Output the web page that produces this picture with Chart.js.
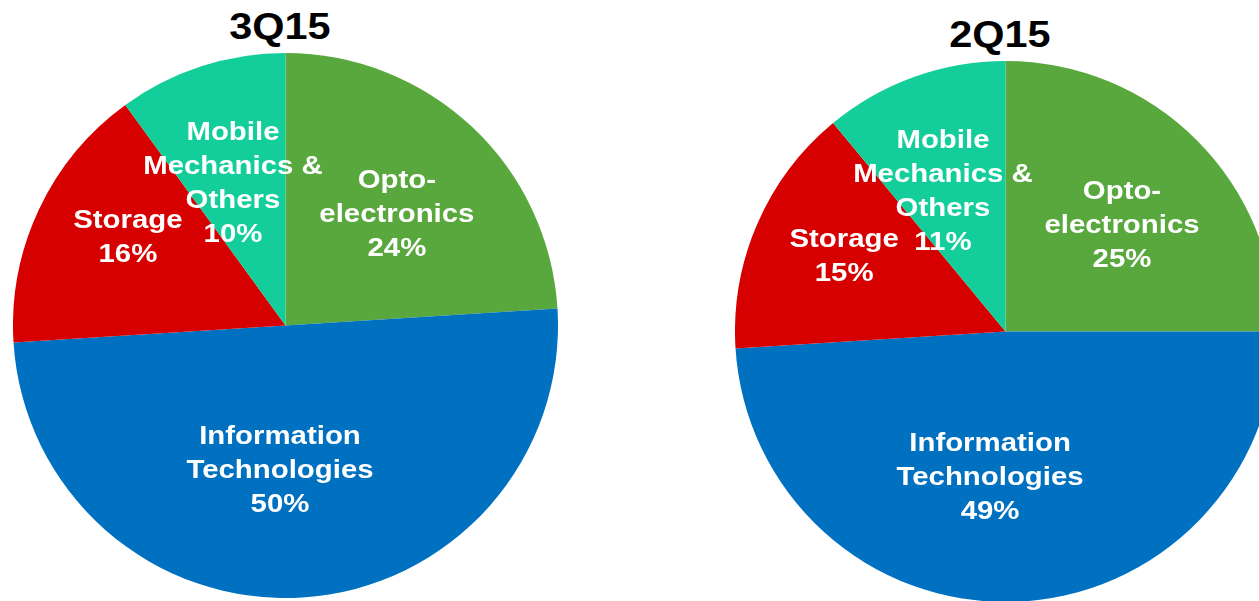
<!DOCTYPE html>
<html>
<head>
<meta charset="utf-8">
<script src="https://cdn.jsdelivr.net/npm/chart.js@4/dist/chart.umd.min.js"></script>
<style>
  html, body { margin: 0; padding: 0; background: #fff; overflow: hidden; }
  body { width: 1259px; height: 601px; position: relative; }
  .title { position: absolute; font: bold 36px "Liberation Sans", Arial, sans-serif; color: #000; text-align: center; width: 200px; transform: scaleX(1.15); }
  .pie { position: absolute; }
</style>
</head>
<body>
<div class="title" style="left:180px; top:6px;">3Q15</div>
<div class="title" style="left:900px; top:14px;">2Q15</div>
<div class="pie" style="left:13px; top:53px; width:545px; height:545px;"><canvas id="pie3q"></canvas></div>
<div class="pie" style="left:735px; top:61px; width:541px; height:541px;"><canvas id="pie2q"></canvas></div>
<script>
const categories = ['Opto-electronics', 'Information Technologies', 'Storage', 'Mobile Mechanics & Others'];
const values3Q15 = [24, 50, 16, 10];
const values2Q15 = [25, 49, 15, 11];
const labelLines = [['Opto-', 'electronics'], ['Information', 'Technologies'], ['Storage'], ['Mobile', 'Mechanics &', 'Others']];
const colors = ['#59A83D', '#0070C0', '#D60000', '#13CE9A'];

// label placement: share of radius, and a small turn (degrees) off the slice middle
const labelPos3Q = [0.581, 0.527, 0.665, 0.561];
const labelTurn3Q = [1.5, 5.8, 4.4, -2.1];
const labelPos2Q = [0.586, 0.537, 0.661, 0.573];
const labelTurn2Q = [2.3, 7.9, 2.1, -4];

const sliceLabels = {
  id: 'sliceLabels',
  afterDatasetsDraw(chart, args, opts) {
    const ctx = chart.ctx;
    const meta = chart.getDatasetMeta(0);
    const vals = chart.data.datasets[0].data;
    ctx.save();
    ctx.fillStyle = '#fff';
    ctx.font = 'bold 26px "Liberation Sans", Arial, sans-serif';
    ctx.textAlign = 'center';
    ctx.textBaseline = 'middle';
    meta.data.forEach((arc, i) => {
      const p = arc.getProps(['x', 'y', 'startAngle', 'endAngle', 'outerRadius'], true);
      const mid = (p.startAngle + p.endAngle) / 2 + opts.turn[i] * Math.PI / 180;
      const r = p.outerRadius * opts.pos[i];
      const cx = p.x + Math.cos(mid) * r;
      const cy = p.y + Math.sin(mid) * r + 2;
      const lines = labelLines[i].concat([vals[i] + '%']);
      const lh = 34;
      const y0 = cy - (lines.length - 1) * lh / 2;
      lines.forEach((t, k) => {
        ctx.save();
        ctx.translate(cx, y0 + k * lh);
        ctx.scale(1.13, 1);  // the original font runs a bit wide
        ctx.fillText(t, 0, 0);
        ctx.restore();
      });
    });
    ctx.restore();
  }
};

function makePie(id, values, pos, turn) {
  new Chart(document.getElementById(id), {
    type: 'pie',
    data: {
      labels: categories,
      datasets: [{
        data: values,
        backgroundColor: colors,
        borderWidth: 0,
        hoverOffset: 0
      }]
    },
    options: {
      responsive: true,
      maintainAspectRatio: false,
      animation: false,
      events: [],
      layout: { padding: 0 },
      plugins: {
        legend: { display: false },
        tooltip: { enabled: false },
        sliceLabels: { pos: pos, turn: turn }
      }
    },
    plugins: [sliceLabels]
  });
}

makePie('pie3q', values3Q15, labelPos3Q, labelTurn3Q);
makePie('pie2q', values2Q15, labelPos2Q, labelTurn2Q);
</script>
</body>
</html>
